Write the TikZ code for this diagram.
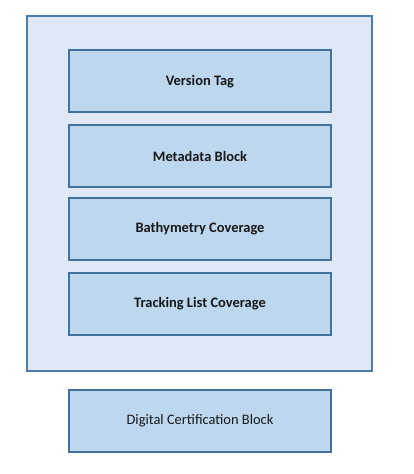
\documentclass[tikz,border=0pt]{standalone}
\usepackage{fontspec}
\setmainfont{Carlito}
\begin{document}
\begin{tikzpicture}[x=1bp,y=-1bp,
  outerbox/.style={draw=outerline,fill=outerfill,line width=1.8bp},
  blockbox/.style={draw=blockline,fill=blockfill,line width=2bp,minimum width=262bp,minimum height=62bp,inner sep=0pt,font=\fontsize{14.5}{16}\selectfont\bfseries,text=black!90},
  ]
\definecolor{outerfill}{HTML}{DEE9F5}
\definecolor{outerline}{HTML}{4F7BAA}
\definecolor{blockfill}{HTML}{BDD7EE}
\definecolor{blockline}{HTML}{41719C}
\useasboundingbox (0,0) rectangle (413,474);
\fill[white] (0,0) rectangle (413,474);
\node[outerbox,minimum width=345bp,minimum height=355bp,inner sep=0pt] (outer) at (199.5,193.5) {};
\node[blockbox] (version) at (200,81.5) {\raisebox{-2bp}{Version Tag}};
\node[blockbox] (meta) at (200,156) {\raisebox{-1bp}{Metadata Block}};
\node[blockbox] (bathy) at (200,229) {\raisebox{-1bp}{Bathymetry Coverage}};
\node[blockbox] (track) at (200,304) {\raisebox{-1bp}{Tracking List Coverage}};
\node[blockbox,font=\fontsize{14.5}{16}\selectfont] (cert) at (200,420.5) {\raisebox{-1bp}{Digital Certification Block}};
\end{tikzpicture}
\end{document}
